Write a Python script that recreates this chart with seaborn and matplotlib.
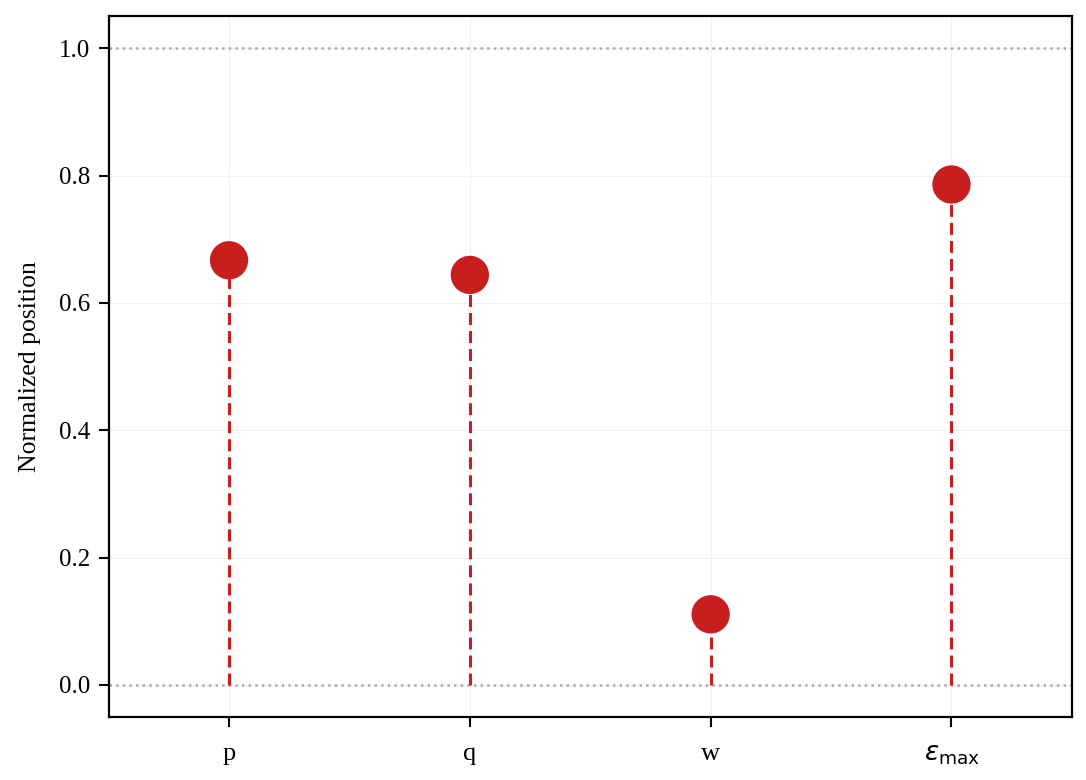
import numpy as np
import pandas as pd
import seaborn as sns
import matplotlib.pyplot as plt

params = ["p", "q", "w", r"$\varepsilon_{\max}$"]
positions = [0.667, 0.644, 0.111, 0.786]

red = "#c81e1e"

sns.set_theme(style="ticks")
plt.rcParams["font.family"] = ["Liberation Serif", "DejaVu Serif"]
plt.rcParams["mathtext.fontset"] = "dejavusans"
plt.rcParams["text.color"] = "black"
plt.rcParams["axes.labelcolor"] = "black"
plt.rcParams["xtick.color"] = "black"
plt.rcParams["ytick.color"] = "black"

df = pd.DataFrame({"param": params, "pos": positions})
df["idx"] = np.arange(len(df))

fig, ax = plt.subplots(figsize=(10.86, 7.8), dpi=100)

ax.grid(True, color="#f0f0f0", lw=0.8, zorder=0)
ax.axhline(0, color="#aaaaaa", ls=":", lw=1.8, zorder=1)
ax.axhline(1, color="#aaaaaa", ls=":", lw=1.8, zorder=1)

ax.vlines(df["idx"], 0, df["pos"], colors=red, linestyles=(0, (3.9, 2.0)),
          lw=2.2, zorder=2)
sns.scatterplot(data=df, x="idx", y="pos", color=red, s=760, edgecolor="none",
                zorder=3, ax=ax, legend=False)

ax.set_xlim(-0.5, len(df) - 0.5)
ax.set_ylim(-0.05, 1.05)
ax.set_xticks(df["idx"])
ax.set_xticklabels(params)
ax.set_yticks([0.0, 0.2, 0.4, 0.6, 0.8, 1.0])
ax.set_xlabel("")
ax.set_ylabel("Normalized position", fontsize=18.5, labelpad=13)
ax.tick_params(axis="y", labelsize=18, pad=6)
ax.tick_params(axis="x", labelsize=19, pad=12)
ax.tick_params(width=1.5, length=7)

for sp in ax.spines.values():
    sp.set_visible(True)
    sp.set_color("black")
    sp.set_linewidth(1.6)

fig.subplots_adjust(left=0.1, right=0.987, top=0.979, bottom=0.081)
fig.savefig("out.png", dpi=100)
